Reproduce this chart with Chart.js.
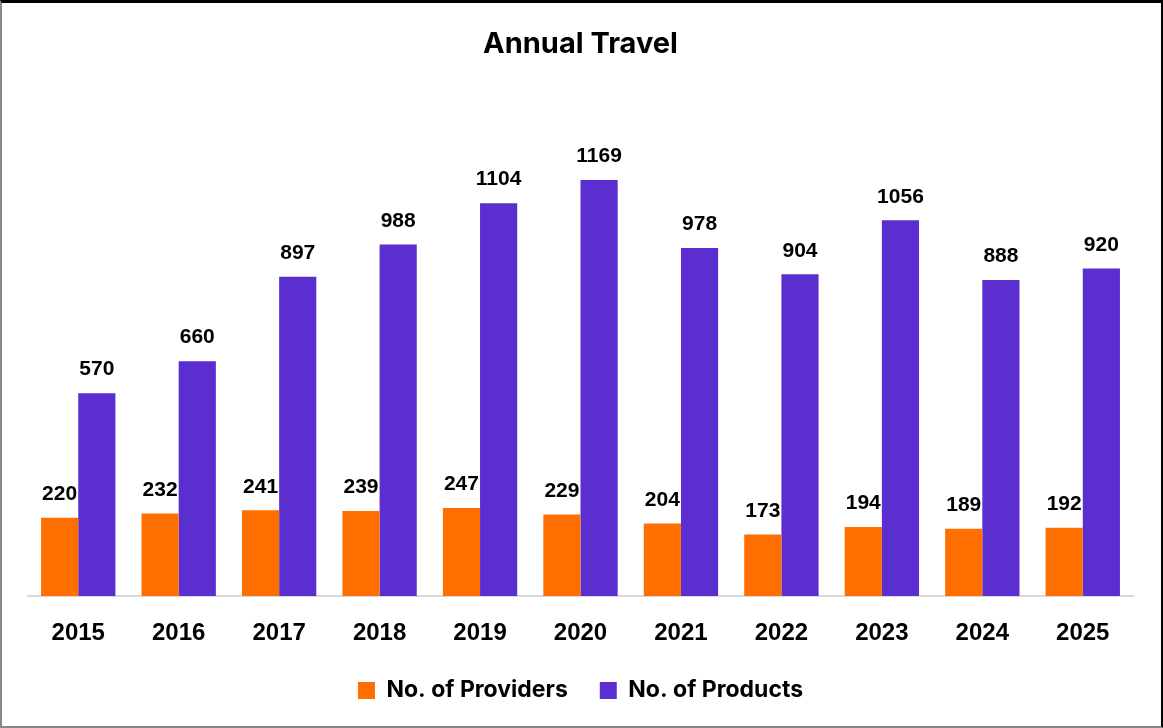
<!DOCTYPE html>
<html><head><meta charset="utf-8">
<script src="https://cdn.jsdelivr.net/npm/chart.js@4/dist/chart.umd.min.js"></script>
<style>
html,body{margin:0;padding:0;background:#fff;}
#wrap{position:absolute;left:0;top:0;width:1163px;height:728px;box-sizing:border-box;
 border-top:3px solid #000;border-right:2px solid #000;border-left:2px solid #888;border-bottom:2px solid #888;background:#fff;}
#c{display:block;}
</style></head>
<body>
<div id="wrap"><canvas id="c" width="1159" height="723"></canvas></div>
<script>
const years = ['2015','2016','2017','2018','2019','2020','2021','2022','2023','2024','2025'];
const providers = [220,232,241,239,247,229,204,173,194,189,192];
const products = [570,660,897,988,1104,1169,978,904,1056,888,920];

const labelPlugin = {
  id:'barLabels',
  afterDatasetsDraw(chart){
    const ctx = chart.ctx;
    ctx.save();
    ctx.font = 'bold 21px "Liberation Sans", Arial, sans-serif';
    ctx.fillStyle = '#000';
    ctx.textAlign = 'center';
    ctx.textBaseline = 'middle';
    chart.data.datasets.forEach((ds,i)=>{
      const meta = chart.getDatasetMeta(i);
      meta.data.forEach((bar,j)=>{
        ctx.fillText(String(ds.data[j]), bar.x, bar.y - 23.5);
      });
    });
    ctx.restore();
  }
};

new Chart(document.getElementById('c'), {
  type:'bar',
  data:{
    labels: years,
    datasets:[
      {label:'No. of Providers', data: providers, backgroundColor:'#FF6F00', borderWidth:0},
      {label:'No. of Products', data: products, backgroundColor:'#5A2ECF', borderWidth:0}
    ]
  },
  options:{
    responsive:false,
    animation:false,
    devicePixelRatio:1,
    categoryPercentage:0.74,
    barPercentage:1.0,
    layout:{padding:{left:26,right:28,top:0,bottom:14}},
    plugins:{
      title:{display:true,text:'Annual Travel',color:'#000',
        font:{family:'Inter, "Liberation Sans", sans-serif',size:29,weight:'bold'},
        padding:{top:24,bottom:36}},
      legend:{position:'bottom',
        labels:{color:'#000',boxWidth:17,boxHeight:17,padding:32,
          font:{family:'Inter, "Liberation Sans", sans-serif',size:23,weight:'bold'}}},
      tooltip:{enabled:false}
    },
    scales:{
      x:{grid:{display:false,drawTicks:false},
         border:{display:true,color:'#d9d9d9',width:2},
         afterFit(scale){ scale.height = 51; },
         ticks:{color:'#000',padding:23,font:{family:'"Liberation Sans", Arial, sans-serif',size:24,weight:'bold'}}},
      y:{display:false,min:0,max:1400,grid:{display:false}}
    }
  },
  plugins:[labelPlugin]
});
</script>
</body></html>
